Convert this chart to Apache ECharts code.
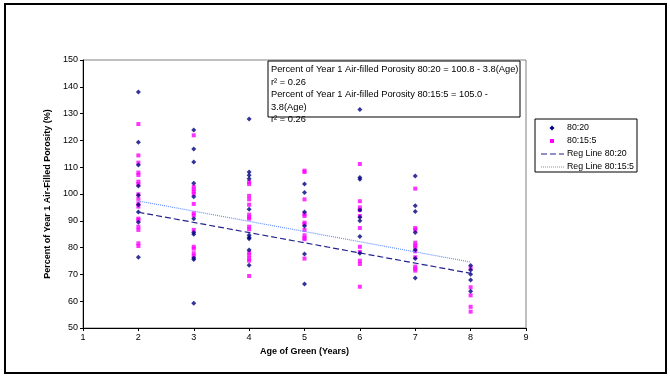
<!DOCTYPE html>
<html>
<head>
<meta charset="utf-8">
<script src="https://cdn.jsdelivr.net/npm/echarts@6/dist/echarts.min.js"></script>
<style>
  html, body { margin: 0; padding: 0; background: #fff; }
  #chart { width: 670px; height: 381px; }
</style>
</head>
<body>
<div id="chart"></div>
<script>
// [age, percent]
const points8020 = [
  [2, 138.1], [2, 119.3], [2, 110.8], [2, 103.0], [2, 99.5], [2, 96.0], [2, 93.3], [2, 89.5], [2, 76.4],
  [3, 123.9], [3, 116.8], [3, 111.9], [3, 104.0], [3, 99.0], [3, 90.8], [3, 85.6], [3, 85.0], [3, 76.1], [3, 75.6], [3, 59.2],
  [4, 128.0], [4, 108.2], [4, 107.0], [4, 105.7], [4, 94.3], [4, 84.6], [4, 83.8], [4, 83.3], [4, 79.1], [4, 73.4],
  [5, 103.7], [5, 100.6], [5, 93.3], [5, 88.1], [5, 77.6], [5, 66.4],
  [6, 131.5], [6, 106.2], [6, 105.5], [6, 94.0], [6, 91.3], [6, 90.0], [6, 84.1], [6, 77.9],
  [7, 106.7], [7, 95.6], [7, 93.5], [7, 85.6], [7, 79.1], [7, 75.9], [7, 68.7],
  [8, 73.3], [8, 71.6], [8, 70.1], [8, 67.9], [8, 63.7]
];
const points80155 = [
  [2, 126.1], [2, 114.4], [2, 111.7], [2, 108.0], [2, 107.1], [2, 104.6], [2, 103.7], [2, 99.9], [2, 98.2],
  [2, 96.5], [2, 95.3], [2, 90.8], [2, 90.3], [2, 87.8], [2, 86.6], [2, 81.6], [2, 80.6],
  [3, 121.9], [3, 102.7], [3, 101.7], [3, 100.9], [3, 100.0], [3, 96.3], [3, 92.8], [3, 92.0], [3, 86.6],
  [3, 80.3], [3, 79.6], [3, 77.9], [3, 76.9],
  [4, 104.5], [4, 103.7], [4, 99.3], [4, 98.0], [4, 96.0], [4, 92.3], [4, 91.3], [4, 90.8], [4, 87.8],
  [4, 86.8], [4, 78.1], [4, 77.1], [4, 75.9], [4, 75.1], [4, 69.4],
  [5, 108.7], [5, 108.2], [5, 98.0], [5, 92.5], [5, 91.8], [5, 89.3], [5, 88.8], [5, 86.6], [5, 84.6],
  [5, 83.6], [5, 83.1], [5, 75.9],
  [6, 111.2], [6, 97.3], [6, 95.0], [6, 94.0], [6, 91.8], [6, 87.3], [6, 80.3], [6, 78.4], [6, 75.1], [6, 73.9], [6, 65.4],
  [7, 102.0], [7, 87.3], [7, 86.6], [7, 81.8], [7, 80.8], [7, 80.1], [7, 78.6], [7, 76.4], [7, 72.9], [7, 72.1], [7, 71.4],
  [8, 72.3], [8, 65.2], [8, 62.2], [8, 57.9], [8, 56.1]
];
// regression line end points
const regLine8020 = [[2, 93.2], [8, 70.4]];
const regLine80155 = [[2, 97.4], [8, 74.6]];

const legendNames = ['80:20', '80:15:5', 'Reg Line 80:20', 'Reg Line 80:15:5'];
const eqLines = [
  'Percent of Year 1 Air-filled Porosity 80:20 = 100.8 - 3.8(Age)',
  'r\u00B2 = 0.26',
  'Percent of Year 1 Air-filled Porosity 80:15:5 = 105.0 -',
  '3.8(Age)',
  'r\u00B2 = 0.26'
];

const font = 'Liberation Sans, Arial, sans-serif';
const navy = '#000080';
const pink = '#FF00FF';
const dashCol = '#23238f';
const dotCol = '#6690ff';

const chart = echarts.init(document.getElementById('chart'));

// hand drawn legend, excel style
const lgX = 535, lgY = 119, rowH = 13;
const rowY = i => lgY + 9 + i * rowH;
const legendIcons = [
  { type: 'polygon', shape: { points: [[552, rowY(0) - 2.5], [554.5, rowY(0)], [552, rowY(0) + 2.5], [549.5, rowY(0)]] },
    style: { fill: navy } },
  { type: 'rect', shape: { x: 550, y: rowY(1) - 2, width: 4, height: 4 }, style: { fill: pink } },
  { type: 'line', shape: { x1: 541, y1: rowY(2), x2: 564, y2: rowY(2) },
    style: { stroke: dashCol, lineWidth: 1.2, lineDash: [6, 3] } },
  { type: 'line', shape: { x1: 541, y1: rowY(3), x2: 564, y2: rowY(3) },
    style: { stroke: dotCol, lineWidth: 1.2, lineDash: [1, 1] } }
];

const option = {
  animation: false,
  backgroundColor: '#fff',
  grid: {
    left: 83, right: 144, top: 60, bottom: 53,
    show: true, borderColor: '#808080', borderWidth: 1
  },
  xAxis: {
    type: 'value', min: 1, max: 9, interval: 1,
    name: 'Age of Green (Years)', nameLocation: 'middle', nameGap: 18,
    nameTextStyle: { fontFamily: font, fontSize: 9, fontWeight: 'bold', color: '#000' },
    axisLine: { lineStyle: { color: '#000', width: 1 } },
    axisTick: { show: true, length: 3, lineStyle: { color: '#000' } },
    axisLabel: { fontFamily: font, fontSize: 9, color: '#000', margin: 5 },
    splitLine: { show: false }
  },
  yAxis: {
    type: 'value', min: 50, max: 150, interval: 10,
    name: 'Percent of Year 1 Air-Filled Porosity (%)', nameLocation: 'middle', nameGap: 30,
    nameTextStyle: { fontFamily: font, fontSize: 9, fontWeight: 'bold', color: '#000' },
    axisLine: { show: true, lineStyle: { color: '#000', width: 1 } },
    axisTick: { show: true, length: 3, lineStyle: { color: '#000' } },
    axisLabel: { fontFamily: font, fontSize: 9, color: '#000', margin: 5 },
    splitLine: { show: false }
  },
  series: [
    {
      name: legendNames[0], type: 'scatter', data: points8020,
      symbol: 'diamond', symbolSize: 5,
      itemStyle: { color: navy }, z: 4
    },
    {
      name: legendNames[1], type: 'scatter', data: points80155,
      symbol: 'rect', symbolSize: 4,
      itemStyle: { color: pink }, z: 3
    },
    {
      name: legendNames[2], type: 'line', data: regLine8020,
      symbol: 'none',
      lineStyle: { color: dashCol, width: 1.2, type: [6, 3] }, z: 5
    },
    {
      name: legendNames[3], type: 'line', data: regLine80155,
      symbol: 'none',
      lineStyle: { color: dotCol, width: 1.2, type: [1, 1] }, z: 5
    }
  ],
  graphic: [
    {
      type: 'rect', silent: true, z: 0,
      shape: { x: 5, y: 4, width: 661, height: 369 },
      style: { fill: null, stroke: '#000', lineWidth: 2 }
    },
    // equation box
    {
      type: 'rect', silent: true, z: 1,
      shape: { x: 268, y: 61, width: 252, height: 56 },
      style: { fill: '#fff', stroke: '#000', lineWidth: 1 }
    },
    ...eqLines.map((t, i) => ({
      type: 'text', silent: true, z: 1,
      x: 271, y: 65 + i * 12.5,
      style: { text: t, fontFamily: font, fontSize: 9.3, fill: '#000' }
    })),
    // legend
    {
      type: 'rect', silent: true, z: 10,
      shape: { x: lgX, y: lgY, width: 102, height: 53 },
      style: { fill: '#fff', stroke: '#000', lineWidth: 1 }
    },
    ...legendIcons.map(el => Object.assign({ silent: true, z: 11 }, el)),
    ...legendNames.map((t, i) => ({
      type: 'text', silent: true, z: 11,
      x: 567, y: rowY(i),
      style: { text: t, fontFamily: font, fontSize: 8.8, fill: '#000', verticalAlign: 'middle' }
    }))
  ]
};

chart.setOption(option);
</script>
</body>
</html>
